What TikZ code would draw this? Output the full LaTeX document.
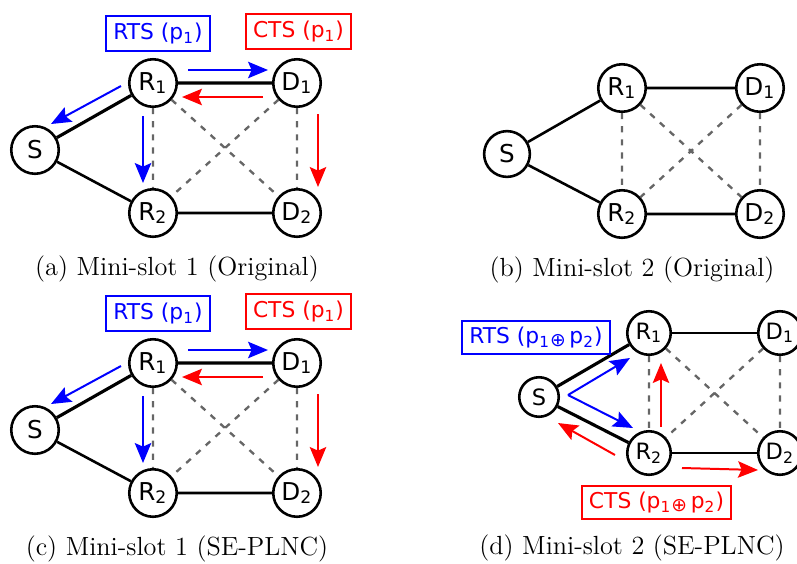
\documentclass[tikz,border=0pt]{standalone}
\usepackage{fontspec}
\newfontfamily\nodefont{DejaVu Sans}
\usetikzlibrary{arrows.meta}

\begin{document}
\begin{tikzpicture}[x=0.015cm,y=-0.015cm,
  stn/.style={circle,draw,line width=1.1pt,fill=white,minimum size=0.7125cm,inner sep=0pt,font=\nodefont\fontsize{10.5}{12}\selectfont},
  stnsmall/.style={stn,minimum size=0.6525cm,font=\nodefont\fontsize{9.6}{11}\selectfont},
  link/.style={line width=1.1pt},
  heavy/.style={line width=1.35pt},
  hidden/.style={black!60,line width=1pt,dash pattern=on 2.6pt off 3pt},
  msg/.style={line width=0.85pt,-{Stealth[length=8.5pt,width=7pt,inset=1.5pt]}},
  rts/.style={msg,blue},
  cts/.style={msg,red},
  tag/.style={draw,line width=0.7pt,inner xsep=3pt,inner ysep=0pt,minimum height=0.53cm,font=\nodefont\fontsize{9.3}{11}\selectfont},
  subcap/.style={font=\fontsize{11.2}{13}\selectfont}]
\clip (0,0) rectangle (797,563);
% (a) and (c): mini-slot 1
\foreach \p/\dy/\scheme in {a/0/Original,c/280/SE-PLNC}{
  \node[stn] (S\p) at (35,150+\dy) {S};
  \node[stn] (R1\p) at (153,83+\dy) {R\textsubscript{1}};
  \node[stn] (D1\p) at (297,83+\dy) {D\textsubscript{1}};
  \node[stn] (R2\p) at (153,213+\dy) {R\textsubscript{2}};
  \node[stn] (D2\p) at (297,213+\dy) {D\textsubscript{2}};
  \draw[heavy] (S\p) -- (R1\p) -- (D1\p);
  \draw[link] (S\p) -- (R2\p) -- (D2\p);
  \draw[hidden] (R1\p) -- (R2\p) (D1\p) -- (D2\p) (R1\p) -- (D2\p) (D1\p) -- (R2\p);
  \draw[rts] ([shift={(35,-13)}]R1\p.center) -- ([shift={(-29,-13)}]D1\p.center);
  \draw[cts] ([shift={(-34,14)}]D1\p.center) -- ([shift={(29,14)}]R1\p.center);
  \draw[rts] ([shift={(-32,3)}]R1\p.center) -- ([shift={(16,-26)}]S\p.center);
  \draw[rts] ([shift={(-10,33)}]R1\p.center) -- ([shift={(-10,-30)}]R2\p.center);
  \draw[cts] ([shift={(21,31)}]D1\p.center) -- ([shift={(21,-26)}]D2\p.center);
  \node[tag,blue] (rts\p) at (158,33.5+\dy) {RTS (p\textsubscript{1})};
  \node[tag,red] (cts\p) at (298.5,31.5+\dy) {CTS (p\textsubscript{1})};
  \node[subcap] (cap\p) at (177,270+\dy-1) {(\p) Mini-slot 1 (\scheme)};
}
% (b): mini-slot 2, original
\node[stn,minimum size=0.686cm] (Sb) at (507,154) {S};
\node[stn] (R1b) at (622,88) {R\textsubscript{1}};
\node[stn] (D1b) at (760,88) {D\textsubscript{1}};
\node[stn] (R2b) at (622,214) {R\textsubscript{2}};
\node[stn] (D2b) at (760,214) {D\textsubscript{2}};
\draw[link] (Sb) -- (R1b) -- (D1b);
\draw[link] (Sb) -- (R2b) -- (D2b);
\draw[hidden] (R1b) -- (R2b) (D1b) -- (D2b) (R1b) -- (D2b) (D1b) -- (R2b);
\node[subcap] (capb) at (632,270) {(b) Mini-slot 2 (Original)};
% (d): mini-slot 2, SE-PLNC
\node[stnsmall,minimum size=0.5925cm] (Sd) at (539,397) {S};
\node[stnsmall] (R1d) at (649,333) {R\textsubscript{1}};
\node[stnsmall] (D1d) at (780,333) {D\textsubscript{1}};
\node[stnsmall] (R2d) at (649,453) {R\textsubscript{2}};
\node[stnsmall] (D2d) at (780,453) {D\textsubscript{2}};
\draw[heavy] (R1d) -- (Sd) -- (R2d);
\draw[link] (R1d) -- (D1d) (R2d) -- (D2d);
\draw[hidden] (R1d) -- (R2d) (D1d) -- (D2d) (R1d) -- (D2d) (D1d) -- (R2d);
\draw[rts] ([shift={(29,-2)}]Sd.center) -- ([shift={(-19,25)}]R1d.center);
\draw[rts] ([shift={(29,-2)}]Sd.center) -- ([shift={(-16,-25)}]R2d.center);
\draw[cts] ([shift={(-34,2)}]R2d.center) -- ([shift={(19,26)}]Sd.center);
\draw[cts] ([shift={(12,-26)}]R2d.center) -- ([shift={(12,30)}]R1d.center);
\draw[cts] ([shift={(33,15)}]R2d.center) -- ([shift={(-22,17)}]D2d.center);
\node[tag,blue,minimum height=0.5cm] (rtsd) at (536,337.5) {RTS (p\textsubscript{1}\raisebox{-1.2pt}{\fontsize{8}{9}\selectfont⊕}\,p\textsubscript{2})};
\node[tag,red,minimum height=0.5cm] (ctsd) at (656.5,502.5) {CTS (p\textsubscript{1}\raisebox{-1.2pt}{\fontsize{8}{9}\selectfont⊕}\,p\textsubscript{2})};
\node[subcap] (capd) at (632,548) {(d) Mini-slot 2 (SE-PLNC)};
\end{tikzpicture}
\end{document}
